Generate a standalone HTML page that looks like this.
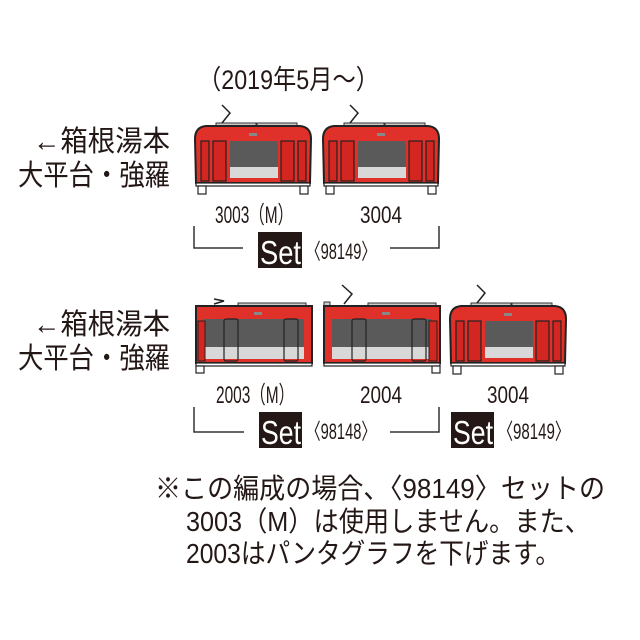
<!DOCTYPE html>
<html><head><meta charset="utf-8"><style>
html,body{margin:0;padding:0;background:#fff}
svg{display:block}
text{font-family:"Liberation Sans","Noto Sans CJK JP",sans-serif;fill:#231815}
</style></head><body>
<svg width="640" height="640" viewBox="0 0 640 640" xmlns="http://www.w3.org/2000/svg">
<defs>
<g id="front">
  <rect x="22" y="-2" width="40" height="5" fill="#ccc" stroke="#333" stroke-width="1"/>
  <rect x="63" y="-2" width="40" height="5" fill="#ccc" stroke="#333" stroke-width="1"/>
  <polyline points="28,-20 36,-12 28,-2" fill="none" stroke="#222" stroke-width="1.5"/>
  <path d="M2,58 L1,14 Q1,2 12,1 L106,1 Q117,2 117,14 L116,58 Z" fill="#e0302a" stroke="#222" stroke-width="2"/>
  <rect x="36" y="16" width="48" height="26" fill="#5a5a5a"/>
  <rect x="36" y="42" width="48" height="11" fill="#d8d8d8"/>
  <rect x="7" y="16" width="8" height="40" fill="#d42620" stroke="#222" stroke-width="1.2"/>
  <rect x="19" y="16" width="13" height="40" fill="#d42620" stroke="#222" stroke-width="1.2"/>
  <rect x="87" y="16" width="13" height="40" fill="#d42620" stroke="#222" stroke-width="1.2"/>
  <rect x="104" y="16" width="8" height="40" fill="#d42620" stroke="#222" stroke-width="1.2"/>
  <rect x="55" y="8" width="8" height="3" fill="#888"/>
  <rect x="2" y="58" width="114" height="3" fill="#fff" stroke="#222" stroke-width="1.2"/>
  <rect x="4" y="61" width="8" height="8" fill="#fff" stroke="#222" stroke-width="1.2"/>
  <rect x="106" y="61" width="8" height="8" fill="#fff" stroke="#222" stroke-width="1.2"/>
</g>
<g id="mid">
  <rect x="2" y="1" width="116" height="57" fill="#e0302a" stroke="#222" stroke-width="2"/>
  <rect x="10" y="14" width="100" height="28" fill="#5a5a5a"/>
  <rect x="10" y="42" width="100" height="12" fill="#d8d8d8"/>
  <rect x="30" y="14" width="14" height="42" rx="2" fill="none" stroke="#222" stroke-width="1.2"/>
  <rect x="90" y="14" width="14" height="42" rx="2" fill="none" stroke="#222" stroke-width="1.2"/>
  <rect x="60" y="7" width="8" height="3" fill="#888"/>
  <rect x="2" y="58" width="116" height="3" fill="#fff" stroke="#222" stroke-width="1.2"/>
</g>
</defs>

<text x="198" y="89" font-size="27" textLength="181" lengthAdjust="spacingAndGlyphs">（2019年5月～）</text>

<text x="33" y="151" font-size="29" textLength="137" lengthAdjust="spacingAndGlyphs">←箱根湯本</text>
<text x="18" y="185" font-size="29" textLength="152" lengthAdjust="spacingAndGlyphs">大平台・強羅</text>
<text x="33" y="334" font-size="29" textLength="137" lengthAdjust="spacingAndGlyphs">←箱根湯本</text>
<text x="18" y="368" font-size="29" textLength="152" lengthAdjust="spacingAndGlyphs">大平台・強羅</text>

<!-- row 1 -->
<use href="#front" x="194" y="125"/>
<use href="#front" x="322" y="125"/>
<text x="215" y="223" font-size="24" textLength="78" lengthAdjust="spacingAndGlyphs">3003（M）</text>
<text x="360" y="223" font-size="24" textLength="42" lengthAdjust="spacingAndGlyphs">3004</text>
<polyline points="194,226 194,248 243,248" fill="none" stroke="#333" stroke-width="1.5"/>
<polyline points="390,248 439,248 439,226" fill="none" stroke="#333" stroke-width="1.5"/>
<rect x="258" y="232" width="44" height="36" fill="#231815"/>
<text x="260" y="264" font-size="33" style="fill:#fff" textLength="41" lengthAdjust="spacingAndGlyphs">Set</text>
<text x="306" y="259" font-size="22" textLength="70" lengthAdjust="spacingAndGlyphs">〈98149〉</text>

<!-- row 2 -->
<g transform="translate(194,305)">
  <rect x="44" y="-2" width="68" height="5" fill="#ccc" stroke="#333" stroke-width="1"/>
  <polyline points="20,-6 30,-4 20,-1" fill="none" stroke="#222" stroke-width="1.5"/>
  <use href="#mid"/>
  <rect x="4" y="16" width="7" height="40" fill="#d42620" stroke="#222" stroke-width="1"/>
  <rect x="2" y="61" width="8" height="7" fill="#fff" stroke="#222" stroke-width="1.2"/>
</g>
<g transform="translate(322,305)">
  <rect x="46" y="-2" width="68" height="5" fill="#ccc" stroke="#333" stroke-width="1"/>
  <rect x="2" y="-3" width="6" height="5" fill="#ccc" stroke="#333" stroke-width="1"/>
  <polyline points="20,-20 30,-11 22,-1" fill="none" stroke="#222" stroke-width="1.5"/>
  <use href="#mid"/>
  <rect x="107" y="16" width="8" height="40" fill="#d42620" stroke="#222" stroke-width="1"/>
  <rect x="110" y="61" width="8" height="7" fill="#fff" stroke="#222" stroke-width="1.2"/>
</g>
<use href="#front" x="449" y="305"/>
<text x="216" y="403" font-size="24" textLength="78" lengthAdjust="spacingAndGlyphs">2003（M）</text>
<text x="360" y="403" font-size="24" textLength="42" lengthAdjust="spacingAndGlyphs">2004</text>
<text x="487" y="403" font-size="24" textLength="42" lengthAdjust="spacingAndGlyphs">3004</text>
<polyline points="194,407 194,432 244,432" fill="none" stroke="#333" stroke-width="1.5"/>
<polyline points="390,432 439,432 439,407" fill="none" stroke="#333" stroke-width="1.5"/>
<rect x="259" y="412" width="43" height="36" fill="#231815"/>
<text x="261" y="444" font-size="33" style="fill:#fff" textLength="40" lengthAdjust="spacingAndGlyphs">Set</text>
<text x="306" y="439" font-size="22" textLength="70" lengthAdjust="spacingAndGlyphs">〈98148〉</text>
<rect x="451" y="412" width="43" height="36" fill="#231815"/>
<text x="453" y="444" font-size="33" style="fill:#fff" textLength="40" lengthAdjust="spacingAndGlyphs">Set</text>
<text x="498" y="439" font-size="22" textLength="72" lengthAdjust="spacingAndGlyphs">〈98149〉</text>

<!-- note -->
<text x="155" y="498" font-size="28" textLength="450" lengthAdjust="spacingAndGlyphs">※この編成の場合、〈98149〉セットの</text>
<text x="186" y="531" font-size="28" textLength="404" lengthAdjust="spacingAndGlyphs">3003（M）は使用しません。また、</text>
<text x="186" y="563" font-size="28" textLength="374" lengthAdjust="spacingAndGlyphs">2003はパンタグラフを下げます。</text>
</svg>
</body></html>
